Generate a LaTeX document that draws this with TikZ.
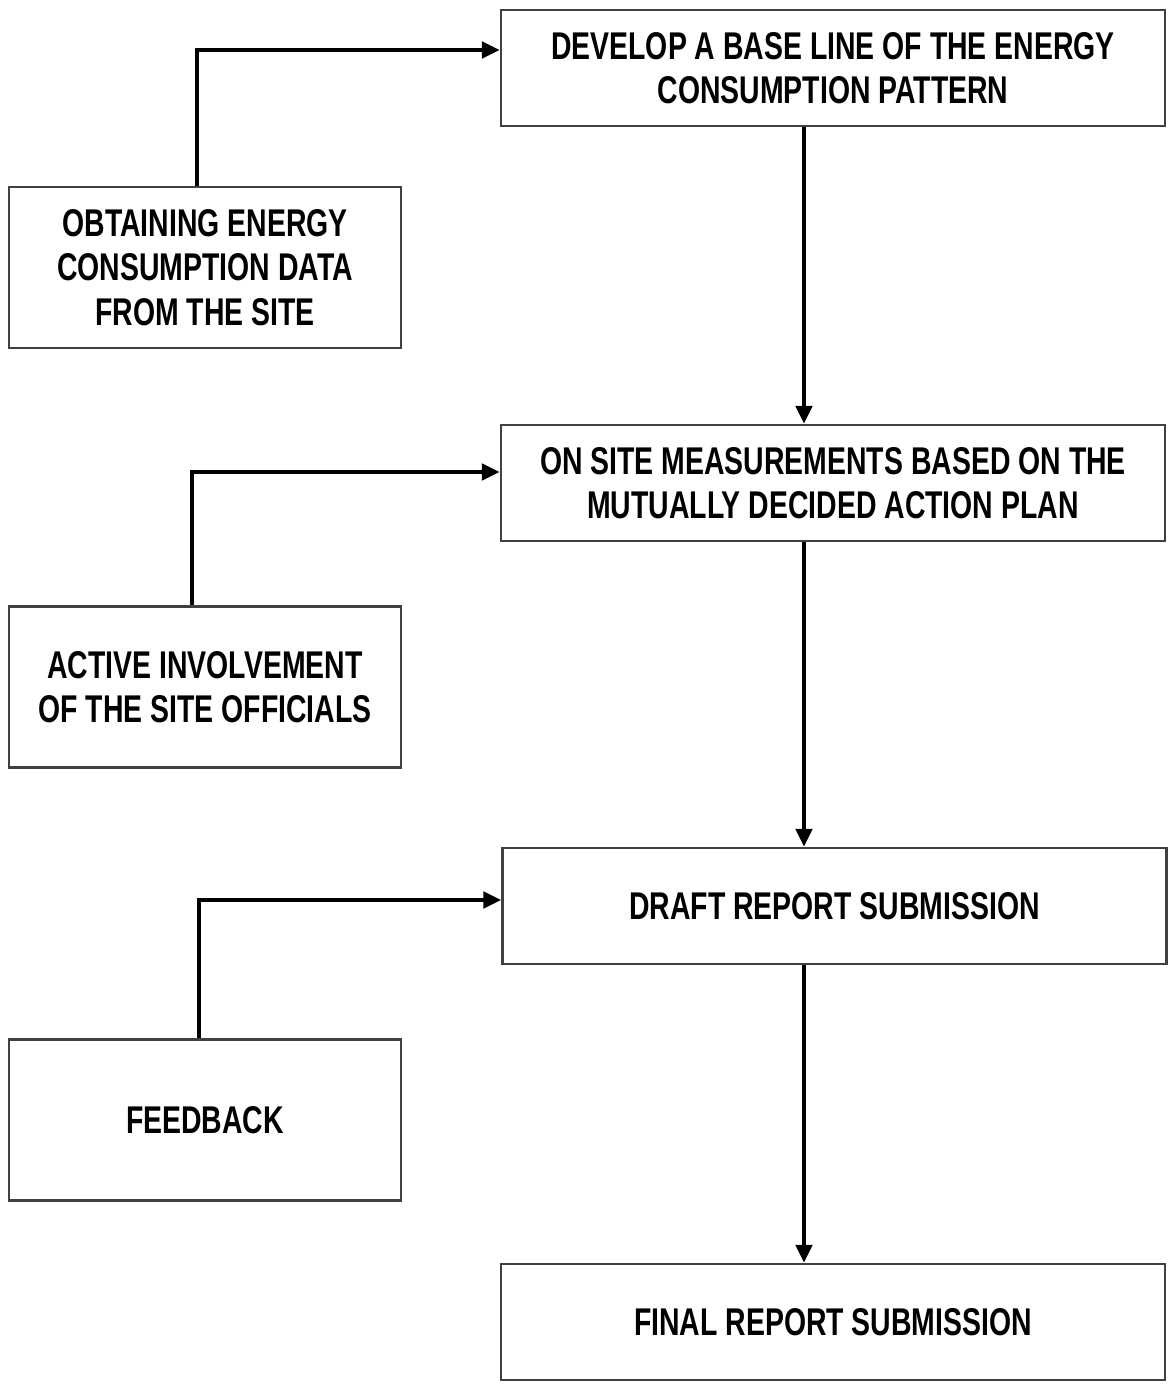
\documentclass[tikz,border=0pt]{standalone}
\usepackage{fontspec}
\setmainfont{Liberation Sans}[FakeStretch=0.735]
\usetikzlibrary{arrows.meta}

\tikzset{
  box/.style={draw=black!75, line width=0.6pt, minimum width=6.64cm, minimum height=1.16cm,
    align=center, inner sep=0pt, font=\bfseries\fontsize{11}{12.6}\selectfont},
  sidebox/.style={box, minimum width=3.92cm, minimum height=1.61cm},
  arr/.style={line width=1.4pt, -{Triangle[length=0.18cm,width=0.16cm]}}
}

\begin{document}
\begin{tikzpicture}
        \useasboundingbox (0,0) rectangle (11.71,-13.89);
        % main steps
        \node[box] (base) at (8.33,-0.68) {DEVELOP A BASE LINE OF THE ENERGY\\CONSUMPTION PATTERN};
        \node[box] (meas) at (8.33,-4.83) {ON SITE MEASUREMENTS BASED ON THE\\MUTUALLY DECIDED ACTION PLAN};
        \node[box] (draft) at (8.345,-9.06) {DRAFT REPORT SUBMISSION};
        \node[box] (final) at (8.33,-13.22) {FINAL REPORT SUBMISSION};
        % side inputs
        \node[sidebox] (data) at (2.05,-2.675) {OBTAINING ENERGY\\CONSUMPTION DATA\\FROM THE SITE};
        \node[sidebox] (inv) at (2.05,-6.87) {ACTIVE INVOLVEMENT\\OF THE SITE OFFICIALS};
        \node[sidebox] (feed) at (2.05,-11.2) {FEEDBACK};
        % bends of the side arrows, line of the main arrows
        \coordinate (k1) at (1.97,-0.50);
        \coordinate (k2) at (1.92,-4.72);
        \coordinate (k3) at (1.99,-9.00);
        \coordinate (spine) at (8.04,0);
        % side arrows
        \draw[arr] (data.north -| k1) -- (k1) -- (k1 -| base.west);
        \draw[arr] (inv.north -| k2) -- (k2) -- (k2 -| meas.west);
        \draw[arr] (feed.north -| k3) -- (k3) -- (k3 -| draft.west);
        % main arrows
        \draw[arr] (base.south -| spine) -- (meas.north -| spine);
        \draw[arr] (meas.south -| spine) -- (draft.north -| spine);
        \draw[arr] (draft.south -| spine) -- (final.north -| spine);
    \end{tikzpicture}
\end{document}
